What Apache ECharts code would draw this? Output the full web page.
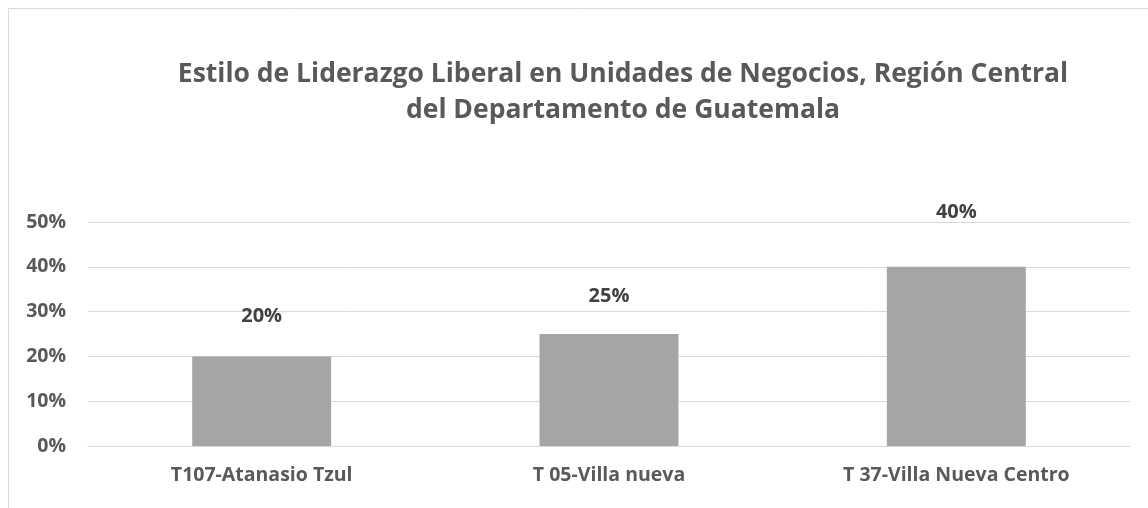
<!DOCTYPE html>
<html>
<head>
<meta charset="utf-8">
<script src="https://cdn.jsdelivr.net/npm/echarts@6/dist/echarts.min.js"></script>
<style>html,body{margin:0;padding:0;background:#fff}#c{width:1148px;height:508px}</style>
</head>
<body>
<div id="c"></div>
<script>
var titleLines = ['Estilo de Liderazgo Liberal en Unidades de Negocios, Región Central', 'del Departamento de Guatemala'];
var categories = ['T107-Atanasio Tzul', 'T 05-Villa nueva', 'T 37-Villa Nueva Centro'];
var values = [0.20, 0.25, 0.40];
var yTicks = [0, 0.1, 0.2, 0.3, 0.4, 0.5];
var labelDistances = [30, 28, 45];

var FONT = 'Open Sans';
var chart = echarts.init(document.getElementById('c'));
chart.setOption({
  animation: false,
  backgroundColor: '#fff',
  graphic: [{
    type: 'rect', left: 6, top: 6, z: -1,
    shape: { width: 1160, height: 501 },
    style: { fill: 'none', stroke: '#d9d9d9', lineWidth: 1 }
  }],
  title: {
    text: titleLines.join('\n'),
    left: 618, top: 51, textAlign: 'center',
    textStyle: { fontFamily: FONT, fontWeight: 'bold', fontSize: 26.5, color: '#595959', lineHeight: 36 }
  },
  grid: { left: 88, right: 18, top: 222, bottom: 62 },
  xAxis: {
    type: 'category', data: categories,
    axisTick: { show: false },
    axisLine: { lineStyle: { color: '#d9d9d9', width: 1 } },
    axisLabel: { margin: 19, fontFamily: FONT, fontWeight: 'bold', fontSize: 19.5, color: '#595959' }
  },
  yAxis: {
    type: 'value', min: yTicks[0], max: yTicks[yTicks.length - 1], interval: 0.1,
    axisLine: { show: false }, axisTick: { show: false },
    splitLine: { lineStyle: { color: '#d9d9d9', width: 1 } },
    axisLabel: {
      margin: 22, fontFamily: FONT, fontWeight: 'bold', fontSize: 19.5, color: '#595959',
      formatter: function (v) { return Math.round(v * 100) + '%'; }
    }
  },
  series: [{
    type: 'bar',
    barCategoryGap: '60%',
    itemStyle: { color: '#a5a5a5' },
    data: values.map(function (v, i) {
      return { value: v, label: { distance: labelDistances[i] } };
    }),
    label: {
      show: true, position: 'top',
      fontFamily: FONT, fontWeight: 'bold', fontSize: 20, color: '#404040',
      formatter: function (p) { return Math.round(p.value * 100) + '%'; }
    }
  }]
});
</script>
</body>
</html>
